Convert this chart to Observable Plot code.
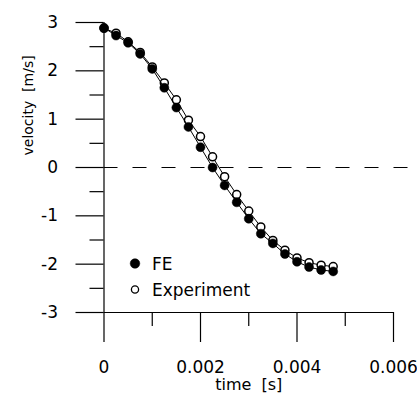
<!DOCTYPE html>
<html>
<head>
<meta charset="utf-8">
<script src="https://cdn.jsdelivr.net/npm/d3@7"></script>
<script src="https://cdn.jsdelivr.net/npm/@observablehq/plot@0.6"></script>
<style>
  html, body { margin: 0; padding: 0; background: white; }
  #wrap { position: relative; width: 417px; height: 401px; }
  #legend { position: absolute; left: 0; top: 0; pointer-events: none; }
</style>
</head>
<body>
<div id="wrap"></div>
<script>
// time [s]
const time = [0, 0.00025, 0.0005, 0.00075, 0.001, 0.00125, 0.0015, 0.00175, 0.002, 0.00225,
              0.0025, 0.00275, 0.003, 0.00325, 0.0035, 0.00375, 0.004, 0.00425, 0.0045, 0.00475];
// velocity [m/s]
const feVelocity  = [2.89, 2.73, 2.58, 2.35, 2.04, 1.65, 1.24, 0.84, 0.42, 0.00,
                     -0.37, -0.72, -1.06, -1.37, -1.57, -1.79, -1.95, -2.06, -2.12, -2.15];
const expVelocity = [2.88, 2.78, 2.60, 2.38, 2.08, 1.75, 1.40, 0.98, 0.64, 0.22,
                     -0.19, -0.56, -0.90, -1.23, -1.51, -1.71, -1.87, -1.97, -2.02, -2.05];
const seriesNames = ["FE", "Experiment"];
const yMajor = [-3, -2, -1, 0, 1, 2, 3];
const yMinor = [-2.5, -1.5, -0.5, 0.5, 1.5, 2.5];
const xMajor = [0, 0.002, 0.004, 0.006];
const xMinor = [0.001, 0.003, 0.005];
const xTitle = "time\u00a0\u00a0[s]";
const yTitle = "velocity\u00a0\u00a0[m/s]";

const fe = time.map((t, i) => ({t, v: feVelocity[i]}));
const ex = time.map((t, i) => ({t, v: expVelocity[i]}));

const chart = Plot.plot({
  width: 417,
  height: 401,
  marginLeft: 103.5,
  marginRight: 24,
  marginTop: 22,
  marginBottom: 89,
  x: {domain: [0, 0.006]},
  y: {domain: [-3, 3]},
  style: {fontFamily: "DejaVu Sans", fontSize: "17px", color: "black", background: "white", overflow: "visible"},
  marks: [
    Plot.ruleY([0], {x1: 0, x2: 0.00632, stroke: "black", strokeWidth: 1.2, strokeDasharray: "14,15"}),
    Plot.ruleX([0], {y1: -3, y2: 3, stroke: "black", strokeWidth: 1.2}),
    Plot.ruleY([-3], {x1: 0, x2: 0.006, stroke: "black", strokeWidth: 1.2}),
    Plot.axisY({ticks: yMajor, tickSize: 28, tickPadding: 18, tickFormat: d => String(d), label: null, strokeWidth: 1.2}),
    Plot.axisY({ticks: yMinor, tickSize: 14, tickFormat: () => "", label: null, strokeWidth: 1.2}),
    Plot.axisX({ticks: xMajor, tickSize: 30, tickPadding: 18, tickFormat: d => String(d), label: null, strokeWidth: 1.2}),
    Plot.axisX({ticks: xMinor, tickSize: 14, tickFormat: () => "", label: null, strokeWidth: 1.2}),
    Plot.line(ex, {x: "t", y: "v", stroke: "black", strokeWidth: 1}),
    Plot.dot(ex, {x: "t", y: "v", r: 4, fill: "white", stroke: "black", strokeWidth: 1.5}),
    Plot.line(fe, {x: "t", y: "v", stroke: "black", strokeWidth: 1}),
    Plot.dot(fe, {x: "t", y: "v", r: 4.5, fill: "black", stroke: "black", strokeWidth: 0.5}),
    Plot.text([yTitle], {text: d => d, frameAnchor: "left", rotate: -90, dx: -75, dy: -12, fontSize: 14}),
    Plot.text([xTitle], {text: d => d, frameAnchor: "bottom", dy: 77, fontSize: 16})
  ]
});
const wrap = document.getElementById("wrap");
wrap.appendChild(chart);

// legend overlay
const ns = "http://www.w3.org/2000/svg";
const leg = document.createElementNS(ns, "svg");
leg.setAttribute("id", "legend");
leg.setAttribute("width", 417);
leg.setAttribute("height", 401);
leg.setAttribute("font-family", "DejaVu Sans");
leg.setAttribute("font-size", "17");
const items = [
  {name: seriesNames[0], filled: true},
  {name: seriesNames[1], filled: false}
];
items.forEach((it, i) => {
  const cy = 263.5 + i * 26;
  const c = document.createElementNS(ns, "circle");
  c.setAttribute("cx", 135);
  c.setAttribute("cy", cy);
  c.setAttribute("r", it.filled ? 4.8 : 3.6);
  c.setAttribute("fill", it.filled ? "black" : "white");
  c.setAttribute("stroke", "black");
  c.setAttribute("stroke-width", it.filled ? 0.5 : 1.3);
  leg.appendChild(c);
  const t = document.createElementNS(ns, "text");
  t.setAttribute("x", 152);
  t.setAttribute("y", cy + 6.5);
  t.textContent = it.name;
  leg.appendChild(t);
});
wrap.appendChild(leg);
</script>
</body>
</html>
